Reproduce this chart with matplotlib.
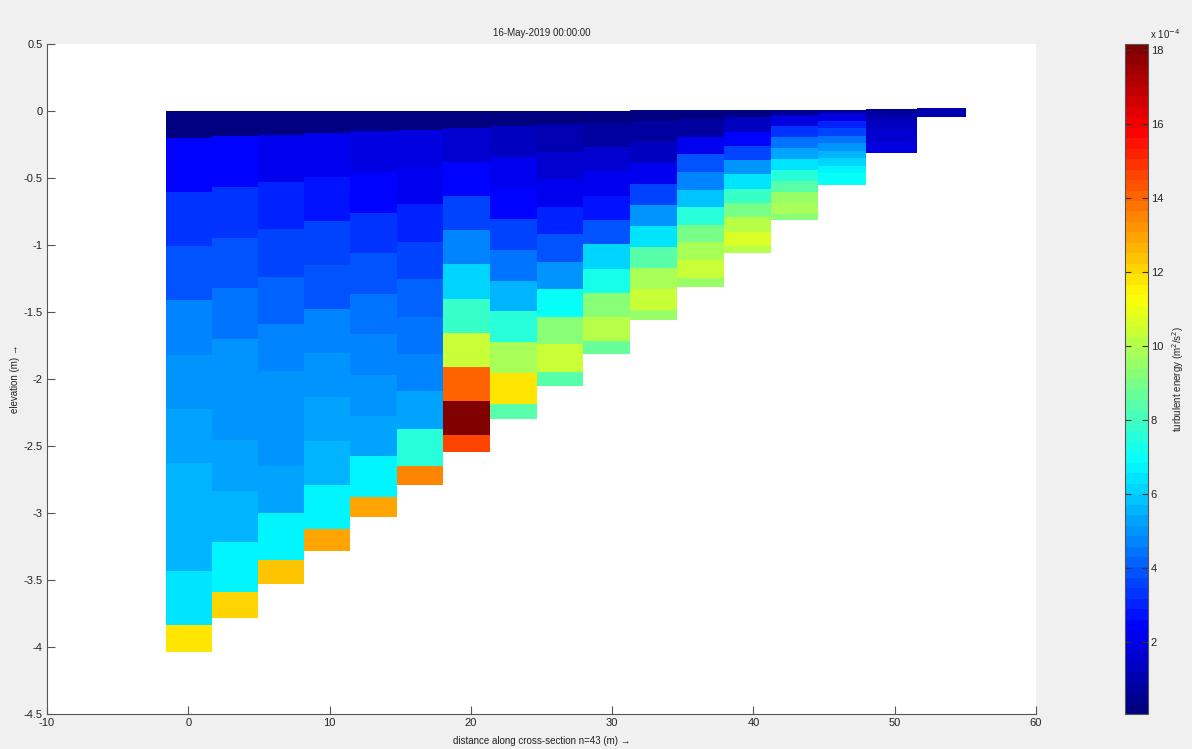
import numpy as np
import matplotlib
matplotlib.use("Agg")
import matplotlib.pyplot as plt
from matplotlib.colors import LinearSegmentedColormap, Normalize

plt.rcParams['axes.unicode_minus'] = False
FAM = ['Liberation Sans Narrow', 'Liberation Sans', 'DejaVu Sans']
plt.rcParams['font.family'] = FAM

# ---------------- data ----------------
# column edges along the cross-section (m)
col_edges = [-1.56, 1.70, 4.95, 8.21, 11.46, 14.79, 18.05, 21.37, 24.70,
             27.95, 31.28, 34.61, 37.93, 41.26, 44.59, 47.98, 51.59, 55.06]
# water level and bed level per column (m)
water_level = [0.0, 0.0, 0.0, 0.0, 0.0, 0.0, 0.0, 0.0, 0.002,
               0.003, 0.004, 0.005, 0.006, 0.008, 0.010, 0.013, 0.020]
bed_level = [-4.04, -3.78, -3.53, -3.28, -3.03, -2.79, -2.545, -2.30, -2.05,
             -1.81, -1.56, -1.31, -1.06, -0.81, -0.55, -0.31, -0.045]
# sigma position of cell edges (fraction of depth from surface), cells centred at layer interfaces
sigma_edges = [0.0, 0.05, 0.15, 0.25, 0.35, 0.45, 0.55, 0.65, 0.75, 0.85, 0.95, 1.0]

# turbulent energy (x 1e-4 m2/s2), one row per interface (surface -> bed), one value per column
tke_k00 = [0.1, 0.1, 0.1, 0.1, 0.1, 0.1, 0.1, 0.1, 0.1, 0.1, 0.1, 0.1, 0.3, 0.5, 0.6, 0.5, 0.9]
tke_k01 = [2.5, 2.5, 2.3, 2.1, 1.9, 1.8, 1.7, 1.3, 1.0, 0.8, 0.7, 0.8, 1.4, 1.9, 2.0, 0.8, 0.9]
tke_k02 = [3.3, 3.2, 3.0, 2.7, 2.5, 2.3, 2.4, 2.1, 1.6, 1.5, 1.4, 2.2, 2.5, 3.3, 3.0, 1.0, 0.9]
tke_k03 = [4.0, 3.8, 3.7, 3.6, 3.3, 2.9, 3.7, 2.5, 2.2, 2.2, 2.1, 3.8, 3.7, 4.4, 3.7, 1.2, 0.9]
tke_k04 = [4.6, 4.5, 4.2, 4.0, 3.9, 3.5, 4.7, 3.7, 2.9, 2.7, 3.5, 4.6, 4.9, 5.3, 4.4, 1.3, 0.9]
tke_k05 = [5.0, 4.9, 4.6, 4.6, 4.3, 4.2, 6.1, 4.4, 4.0, 4.0, 4.9, 5.9, 6.4, 6.3, 4.9, 1.5, 0.9]
tke_k06 = [5.4, 5.0, 4.9, 4.9, 4.8, 4.5, 7.7, 5.7, 5.0, 6.0, 6.3, 7.5, 7.8, 7.5, 5.6, 1.6, 0.9]
tke_k07 = [5.5, 5.2, 5.1, 5.4, 5.1, 4.7, 10.5, 7.6, 7.0, 7.4, 8.4, 8.9, 9.0, 8.5, 6.1, 1.7, 0.9]
tke_k08 = [5.5, 5.5, 5.3, 5.7, 5.3, 5.4, 14.0, 9.9, 9.2, 9.3, 9.7, 9.8, 10.0, 9.6, 6.6, 1.8, 0.9]
tke_k09 = [6.5, 6.6, 6.7, 6.6, 6.7, 7.6, 18.15, 11.8, 10.5, 10.2, 10.5, 10.5, 10.6, 9.9, 7.0, 1.9, 0.9]
tke_k10 = [11.9, 12.2, 12.4, 12.9, 13.0, 13.4, 14.5, 8.5, 8.5, 8.7, 9.5, 9.5, 10.2, 9.2, 7.0, 1.9, 0.9]

cbar_ticks = [2, 4, 6, 8, 10, 12, 14, 16, 18]
x_ticks = [-10, 0, 10, 20, 30, 40, 50, 60]
y_ticks = [0.5, 0, -0.5, -1, -1.5, -2, -2.5, -3, -3.5, -4, -4.5]

tke = np.array([tke_k00, tke_k01, tke_k02, tke_k03, tke_k04, tke_k05,
                tke_k06, tke_k07, tke_k08, tke_k09, tke_k10])

# MATLAB-style jet
cdict = {
    'red':   [(0, 0, 0), (0.375, 0, 0), (0.625, 1, 1), (0.875, 1, 1), (1, 0.5, 0.5)],
    'green': [(0, 0, 0), (0.125, 0, 0), (0.375, 1, 1), (0.625, 1, 1), (0.875, 0, 0), (1, 0, 0)],
    'blue':  [(0, 0.5, 0.5), (0.125, 1, 1), (0.375, 1, 1), (0.625, 0, 0), (1, 0, 0)],
}
cmap = LinearSegmentedColormap('mjet', cdict, N=64)
norm = Normalize(vmin=0.05, vmax=18.15)

W, H = 1192, 749
fig = plt.figure(figsize=(W / 100, H / 100), dpi=100, facecolor='#f0f0f0')
ax = fig.add_axes([47 / W, 35 / H, 989 / W, 670 / H])
cax = fig.add_axes([1125 / W, 35 / H, 23 / W, 670 / H])
ax.set_facecolor('white')

sig = np.array(sigma_edges)
mesh = None
for j in range(len(bed_level)):
    wl = water_level[j]
    depth = wl - bed_level[j]
    yed = wl - depth * sig
    xed = col_edges[j:j + 2]
    C = tke[:, j:j + 1]
    mesh = ax.pcolormesh(xed, yed, C, cmap=cmap, norm=norm, shading='flat',
                         edgecolors='none', antialiased=False)

ax.set_xlim(-10, 60)
ax.set_ylim(-4.5, 0.5)
ax.set_xticks(x_ticks)
ax.set_yticks(y_ticks)
ax.set_yticklabels([('%g' % v) for v in y_ticks])
for s in ['top', 'right']:
    ax.spines[s].set_visible(False)
for s in ['left', 'bottom']:
    ax.spines[s].set_color('#555555')
    ax.spines[s].set_linewidth(0.8)
ax.tick_params(direction='in', length=6, width=0.8, color='#555555',
               labelsize=8, labelcolor='#222222', pad=3)

ax.set_title('16-May-2019 00:00:00', fontsize=7, color='#222222', pad=6)
ax.set_xlabel('distance along cross-section n=43 (m) \u2192', fontsize=7,
              color='#222222', labelpad=6)
ax.set_ylabel('elevation (m) \u2192', fontsize=7, color='#222222', labelpad=3)

cb = fig.colorbar(mesh, cax=cax, ticks=cbar_ticks)
cb.outline.set_edgecolor('#555555')
cb.outline.set_linewidth(0.8)
cax.tick_params(direction='in', length=4, width=0.8, color='#333333',
                left=True, right=True, labelsize=8, labelcolor='#222222', pad=2)
cb.set_label('turbulent energy (m$^2$/s$^2$)', fontsize=7, color='#222222', labelpad=5)
cax.text(1.1, 1.005, 'x 10$^{-4}$', transform=cax.transAxes, fontsize=7,
         color='#222222', ha='left', va='bottom')

fig.savefig('out.png', dpi=100, facecolor=fig.get_facecolor())
